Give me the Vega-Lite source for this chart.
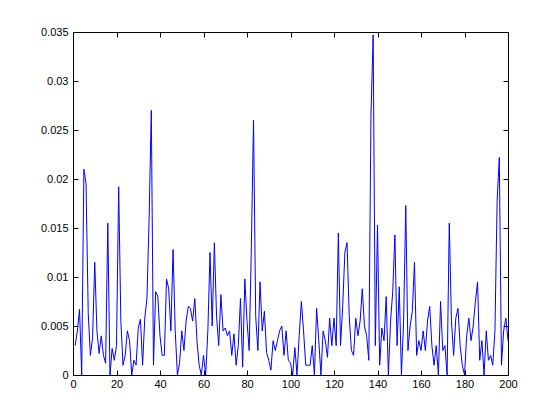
{
  "$schema": "https://vega.github.io/schema/vega-lite/v6.json",
  "width": 435,
  "height": 343,
  "autosize": "none",
  "padding": {"left": 73, "top": 32, "right": 52, "bottom": 45},
  "background": "white",
  "config": {
    "view": {"stroke": "black", "strokeWidth": 1},
    "axis": {
      "labelFont": "Liberation Sans",
      "labelFontSize": 11,
      "labelColor": "black",
      "labelFlush": false,
      "labelOverlap": false,
      "domain": false,
      "grid": false,
      "tickColor": "black",
      "tickSize": -5,
      "tickWidth": 1
    }
  },
  "data": {"values": [
    {"x":1,"y":0.003},{"x":2,"y":0.0045},{"x":3,"y":0.0067},{"x":4,"y":0.0},{"x":5,"y":0.021},
    {"x":6,"y":0.0195},{"x":7,"y":0.0063},{"x":8,"y":0.002},{"x":9,"y":0.0038},{"x":10,"y":0.0115},
    {"x":11,"y":0.0045},{"x":12,"y":0.0022},{"x":13,"y":0.004},{"x":14,"y":0.002},{"x":15,"y":0.0012},
    {"x":16,"y":0.0155},{"x":17,"y":0.0},{"x":18,"y":0.0027},{"x":19,"y":0.0015},{"x":20,"y":0.003},
    {"x":21,"y":0.0192},{"x":22,"y":0.0055},{"x":23,"y":0.001},{"x":24,"y":0.002},{"x":25,"y":0.0045},
    {"x":26,"y":0.0035},{"x":27,"y":0.0},{"x":28,"y":0.0015},{"x":29,"y":0.001},{"x":30,"y":0.0048},
    {"x":31,"y":0.0057},{"x":32,"y":0.001},{"x":33,"y":0.0058},{"x":34,"y":0.0078},{"x":35,"y":0.016},
    {"x":36,"y":0.027},{"x":37,"y":0.001},{"x":38,"y":0.0085},{"x":39,"y":0.008},{"x":40,"y":0.004},
    {"x":41,"y":0.002},{"x":42,"y":0.002},{"x":43,"y":0.0098},{"x":44,"y":0.0088},{"x":45,"y":0.0045},
    {"x":46,"y":0.0128},{"x":47,"y":0.0045},{"x":48,"y":0.0},{"x":49,"y":0.0012},{"x":50,"y":0.0045},
    {"x":51,"y":0.0025},{"x":52,"y":0.0055},{"x":53,"y":0.007},{"x":54,"y":0.0068},{"x":55,"y":0.0055},
    {"x":56,"y":0.0078},{"x":57,"y":0.0035},{"x":58,"y":0.001},{"x":59,"y":0.0},{"x":60,"y":0.002},
    {"x":61,"y":0.0},{"x":62,"y":0.0045},{"x":63,"y":0.0125},{"x":64,"y":0.005},{"x":65,"y":0.0135},
    {"x":66,"y":0.006},{"x":67,"y":0.003},{"x":68,"y":0.0082},{"x":69,"y":0.0045},{"x":70,"y":0.0048},
    {"x":71,"y":0.004},{"x":72,"y":0.0045},{"x":73,"y":0.002},{"x":74,"y":0.0042},{"x":75,"y":0.001},
    {"x":76,"y":0.003},{"x":77,"y":0.0078},{"x":78,"y":0.0008},{"x":79,"y":0.0098},{"x":80,"y":0.0055},
    {"x":81,"y":0.0025},{"x":82,"y":0.013},{"x":83,"y":0.026},{"x":84,"y":0.006},{"x":85,"y":0.0025},
    {"x":86,"y":0.0095},{"x":87,"y":0.0045},{"x":88,"y":0.0065},{"x":89,"y":0.0023},{"x":90,"y":0.0015},
    {"x":91,"y":0.0005},{"x":92,"y":0.0035},{"x":93,"y":0.0025},{"x":94,"y":0.0035},{"x":95,"y":0.0045},
    {"x":96,"y":0.005},{"x":97,"y":0.002},{"x":98,"y":0.0045},{"x":99,"y":0.0015},{"x":100,"y":0.0012},
    {"x":101,"y":0.0},{"x":102,"y":0.0028},{"x":103,"y":0.0},{"x":104,"y":0.004},{"x":105,"y":0.0075},
    {"x":106,"y":0.0045},{"x":107,"y":0.001},{"x":108,"y":0.001},{"x":109,"y":0.001},{"x":110,"y":0.003},
    {"x":111,"y":0.0},{"x":112,"y":0.0068},{"x":113,"y":0.0035},{"x":114,"y":0.0},{"x":115,"y":0.0045},
    {"x":116,"y":0.0035},{"x":117,"y":0.0018},{"x":118,"y":0.0058},{"x":119,"y":0.003},{"x":120,"y":0.0058},
    {"x":121,"y":0.003},{"x":122,"y":0.0145},{"x":123,"y":0.003},{"x":124,"y":0.007},{"x":125,"y":0.0125},
    {"x":126,"y":0.0135},{"x":127,"y":0.006},{"x":128,"y":0.0025},{"x":129,"y":0.002},{"x":130,"y":0.0058},
    {"x":131,"y":0.004},{"x":132,"y":0.0055},{"x":133,"y":0.0088},{"x":134,"y":0.005},{"x":135,"y":0.004},
    {"x":136,"y":0.0015},{"x":137,"y":0.0265},{"x":138,"y":0.0347},{"x":139,"y":0.003},{"x":140,"y":0.0153},
    {"x":141,"y":0.001},{"x":142,"y":0.0048},{"x":143,"y":0.0035},{"x":144,"y":0.008},{"x":145,"y":0.0},
    {"x":146,"y":0.0055},{"x":147,"y":0.0085},{"x":148,"y":0.0143},{"x":149,"y":0.003},{"x":150,"y":0.009},
    {"x":151,"y":0.0},{"x":152,"y":0.0055},{"x":153,"y":0.0173},{"x":154,"y":0.0025},{"x":155,"y":0.005},
    {"x":156,"y":0.0065},{"x":157,"y":0.0115},{"x":158,"y":0.002},{"x":159,"y":0.0035},{"x":160,"y":0.0025},
    {"x":161,"y":0.0045},{"x":162,"y":0.0025},{"x":163,"y":0.0055},{"x":164,"y":0.007},{"x":165,"y":0.003},
    {"x":166,"y":0.001},{"x":167,"y":0.003},{"x":168,"y":0.0},{"x":169,"y":0.0075},{"x":170,"y":0.0025},
    {"x":171,"y":0.003},{"x":172,"y":0.0},{"x":173,"y":0.0155},{"x":174,"y":0.0055},{"x":175,"y":0.002},
    {"x":176,"y":0.0058},{"x":177,"y":0.0068},{"x":178,"y":0.003},{"x":179,"y":0.001},{"x":180,"y":0.0},
    {"x":181,"y":0.004},{"x":182,"y":0.0058},{"x":183,"y":0.0035},{"x":184,"y":0.005},{"x":185,"y":0.0075},
    {"x":186,"y":0.0095},{"x":187,"y":0.0015},{"x":188,"y":0.0035},{"x":189,"y":0.0},{"x":190,"y":0.0045},
    {"x":191,"y":0.0015},{"x":192,"y":0.002},{"x":193,"y":0.001},{"x":194,"y":0.0045},{"x":195,"y":0.0178},
    {"x":196,"y":0.0222},{"x":197,"y":0.001},{"x":198,"y":0.0045},{"x":199,"y":0.0058},{"x":200,"y":0.0035}
  ]},
  "layer": [
    {
      "mark": {"type": "line", "color": "#0000ff", "strokeWidth": 1, "clip": true},
      "encoding": {
        "x": {"field": "x", "type": "quantitative", "scale": {"domain": [0, 200], "nice": false},
              "axis": {"orient": "bottom", "values": [0,20,40,60,80,100,120,140,160,180,200], "title": null, "labelPadding": 8}},
        "y": {"field": "y", "type": "quantitative", "scale": {"domain": [0, 0.035], "nice": false, "zero": false},
              "axis": {"orient": "left", "values": [0,0.005,0.01,0.015,0.02,0.025,0.03,0.035], "format": "~g", "title": null, "labelPadding": 10}}
      }
    },
    {
      "mark": {"type": "line", "strokeOpacity": 0},
      "encoding": {
        "x": {"field": "x", "type": "quantitative", "scale": {"domain": [0, 200], "nice": false},
              "axis": {"orient": "top", "values": [0,20,40,60,80,100,120,140,160,180,200], "labels": false, "title": null}},
        "y": {"field": "y", "type": "quantitative", "scale": {"domain": [0, 0.035], "nice": false, "zero": false},
              "axis": {"orient": "right", "values": [0,0.005,0.01,0.015,0.02,0.025,0.03,0.035], "labels": false, "title": null}}
      }
    }
  ],
  "resolve": {"axis": {"x": "independent", "y": "independent"}}
}
